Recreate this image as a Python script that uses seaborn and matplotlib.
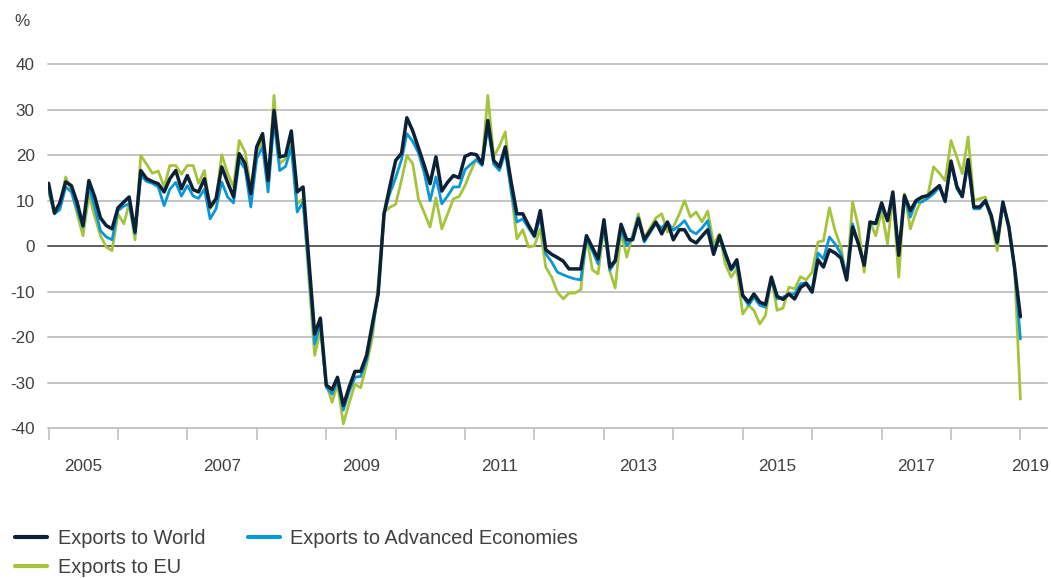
import numpy as np
import pandas as pd
import matplotlib
matplotlib.use("Agg")
import matplotlib.pyplot as plt
import matplotlib.dates as mdates
from matplotlib.lines import Line2D
import seaborn as sns

# ── data: monthly growth, % y/y, Jan 2005 .. Jan 2019 ─────────────────────────
world = [
    13.8, 7.3, 9.5, 14.1, 13.3, 9.5, 4.5, 14.4, 10.8, 6.2, 4.5, 3.8,          # 2005
    8.4, 9.7, 10.8, 3.1, 16.6, 14.8, 14.2, 13.7, 11.9, 14.8, 16.6, 12.6,      # 2006
    15.5, 12.4, 11.9, 14.8, 8.6, 10.4, 17.4, 14.0, 10.8, 20.3, 18.1, 11.5,    # 2007
    21.8, 24.7, 14.4, 29.8, 19.6, 19.9, 25.3, 11.9, 13.0, -3.0, -19.3, -15.8, # 2008
    -30.5, -31.5, -28.8, -35.0, -31.0, -27.5, -27.5, -24.0, -17.0, -10.5, 7.1, 13.0,  # 2009
    18.8, 20.4, 28.2, 25.3, 21.6, 17.7, 13.7, 19.6, 12.1, 14.0, 15.5, 15.0,   # 2010
    19.7, 20.3, 20.1, 18.1, 27.6, 18.8, 17.4, 21.8, 14.0, 7.1, 7.1, 4.6,      # 2011
    2.3, 7.8, -0.8, -1.8, -2.5, -3.3, -5.0, -5.0, -5.0, 2.3, -0.3, -2.8,      # 2012
    5.8, -4.6, -3.2, 4.8, 1.4, 1.4, 6.0, 1.4, 3.4, 5.3, 2.7, 5.3,            # 2013
    1.4, 3.6, 3.6, 1.4, 0.7, 2.2, 3.6, -1.8, 2.3, -1.5, -5.0, -3.0,          # 2014
    -10.8, -12.3, -10.5, -12.3, -12.8, -6.8, -11.0, -11.7, -10.5, -11.6, -9.1, -8.2,  # 2015
    -10.1, -3.0, -4.6, -0.8, -1.5, -2.6, -7.4, 4.2, 0.5, -4.2, 5.3, 5.0,     # 2016
    9.5, 5.6, 11.9, -2.0, 11.1, 7.8, 10.0, 10.8, 11.1, 12.2, 13.3, 9.9,      # 2017
    18.7, 13.1, 10.9, 19.0, 8.6, 8.6, 10.0, 6.7, 0.9, 9.7, 4.2, -4.6,        # 2018
    -15.5,                                                                   # 2019
]

advanced = [
    12.5, 7.1, 8.0, 13.0, 11.9, 8.0, 4.2, 13.0, 8.5, 3.4, 2.0, 1.4,
    7.8, 8.8, 9.3, 2.7, 15.5, 14.2, 13.8, 13.0, 8.9, 12.5, 14.0, 11.0,
    13.3, 11.0, 10.5, 12.5, 6.0, 8.2, 14.1, 10.8, 9.5, 18.8, 17.0, 8.6,
    19.2, 21.8, 11.9, 27.6, 16.6, 17.5, 21.8, 7.5, 9.7, -5.0, -21.5, -16.7,
    -31.0, -32.5, -29.5, -36.0, -32.0, -28.8, -28.6, -25.0, -18.0, -10.5, 7.1, 11.5,
    15.0, 19.0, 24.7, 23.0, 20.5, 16.0, 10.0, 15.2, 9.3, 11.0, 13.0, 13.0,
    16.8, 18.0, 19.0, 17.7, 26.2, 18.0, 16.6, 20.7, 12.0, 5.3, 6.0, 4.0,
    2.0, 6.4, -1.7, -3.5, -5.7, -6.3, -6.8, -7.2, -7.4, 1.6, -1.0, -3.9,
    4.9, -5.3, -3.5, 3.6, 0.1, 2.0, 6.4, 0.9, 3.0, 5.0, 4.0, 5.3,
    3.5, 4.5, 5.6, 3.4, 2.7, 4.0, 5.6, -1.3, 1.8, -2.0, -5.3, -3.9,
    -11.0, -13.0, -11.2, -13.0, -13.4, -7.2, -11.6, -11.2, -10.5, -10.5, -8.3, -8.0,
    -9.7, -1.5, -2.8, 2.0, 0.5, -1.7, -6.8, 4.9, 0.5, -3.9, 4.9, 4.9,
    8.6, 5.6, 10.8, -1.7, 10.8, 6.4, 9.7, 9.7, 10.5, 11.5, 13.0, 9.7,
    18.1, 12.6, 10.8, 18.1, 8.2, 8.2, 9.7, 6.4, 0.5, 9.3, 4.2, -4.6,
    -20.4,
]

eu = [
    11.9, 7.1, 8.6, 15.2, 12.2, 7.0, 2.3, 11.1, 6.5, 2.3, -0.2, -1.0,
    7.1, 4.9, 9.3, 1.4, 19.9, 18.0, 16.0, 16.5, 13.0, 17.7, 17.7, 15.8,
    17.7, 17.7, 13.8, 16.6, 8.2, 10.0, 20.1, 16.0, 13.0, 23.2, 20.7, 12.6,
    20.7, 23.2, 13.7, 33.1, 18.1, 19.2, 24.0, 9.3, 10.4, -7.0, -24.0, -18.5,
    -30.3, -34.3, -30.3, -39.0, -34.5, -30.3, -31.1, -26.0, -20.0, -8.5, 7.5, 8.5,
    9.2, 14.5, 19.9, 18.1, 10.4, 7.3, 4.2, 10.6, 3.8, 7.0, 10.4, 10.9,
    13.3, 16.5, 19.0, 18.1, 33.1, 19.6, 22.0, 25.1, 12.0, 1.6, 3.6, -0.2,
    0.1, 3.8, -4.6, -6.8, -10.1, -11.6, -10.3, -10.3, -9.6, 2.3, -5.2, -6.1,
    4.2, -5.5, -9.2, 3.1, -2.4, 2.5, 7.1, 1.8, 4.0, 6.2, 7.1, 3.1,
    4.2, 7.0, 10.0, 6.4, 7.5, 5.3, 7.7, 0.5, 2.7, -3.9, -6.8, -5.0,
    -14.9, -13.0, -14.1, -17.1, -15.2, -6.8, -14.1, -13.6, -9.0, -9.4, -6.7, -7.4,
    -5.7, 0.9, 1.2, 8.4, 3.4, -0.2, -7.5, 9.7, 4.2, -5.7, 5.3, 2.3,
    7.8, 0.5, 11.1, -6.8, 11.5, 3.8, 7.5, 10.4, 11.1, 17.4, 16.0, 14.4,
    23.2, 19.5, 15.9, 24.0, 10.0, 10.4, 10.8, 5.6, -1.0, 9.3, 4.9, -4.6,
    -33.6,
]

y_ticks = [-40, -30, -20, -10, 0, 10, 20, 30, 40]
year_labels = ["2005", "2007", "2009", "2011", "2013", "2015", "2017", "2019"]

COLORS = {
    "Exports to World": "#0d2136",
    "Exports to Advanced Economies": "#0b97d5",
    "Exports to EU": "#a6c33c",
}
WIDTHS = {
    "Exports to World": 2.5,
    "Exports to Advanced Economies": 2.0,
    "Exports to EU": 2.0,
}

# ── frame ────────────────────────────────────────────────────────────────────
months = pd.date_range("2005-01-01", periods=len(world), freq="MS")
df = pd.DataFrame({
    "date": months,
    "Exports to World": world,
    "Exports to Advanced Economies": advanced,
    "Exports to EU": eu,
})
long = df.melt(id_vars="date", var_name="series", value_name="pct")

sns.set_theme(style="white")
plt.rcParams["font.family"] = ["Liberation Sans", "DejaVu Sans"]
TXT = "#404040"

W, H = 1051, 578
fig = plt.figure(figsize=(W / 100, H / 100), dpi=100)
ax = fig.add_axes([48 / W, 1 - 428.3 / H, (1047 - 48) / W, (428.3 - 64) / H])

# grid first so lines sit on top
for v in y_ticks:
    ax.axhline(v, color="#5e5e5e" if v == 0 else "#c4c4c4", lw=1.4,
               clip_on=False, zorder=1)

for name in ["Exports to EU", "Exports to Advanced Economies", "Exports to World"]:
    sns.lineplot(data=long[long.series == name], x="date", y="pct",
                 color=COLORS[name], lw=WIDTHS[name], ax=ax, legend=False,
                 zorder=3)

ax.set_ylim(-40, 40)
ax.set_xlim(pd.Timestamp("2004-12-29"), pd.Timestamp("2019-05-21"))
ax.set_xlabel("")
ax.set_ylabel("")
for s in ax.spines.values():
    s.set_visible(False)

ax.set_yticks(y_ticks)
ax.set_yticklabels([str(v) for v in y_ticks])
ax.tick_params(axis="y", left=True, length=0, pad=9.5, labelsize=12.3,
               labelcolor=TXT)

# year boundary ticks, labels at mid-year of odd years
ax.xaxis.set_major_locator(mdates.YearLocator(1))
ax.xaxis.set_major_formatter(plt.NullFormatter())
ax.tick_params(axis="x", which="major", bottom=True, length=8.6, width=1.4,
               color="#c8c8c8", direction="out")
label_pos = [pd.Timestamp(f"{y}-07-02") for y in year_labels[:-1]]
label_pos.append(pd.Timestamp("2019-02-22"))
ax.set_xticks(mdates.date2num(label_pos), minor=True)
ax.set_xticklabels(year_labels, minor=True)
ax.tick_params(axis="x", which="minor", bottom=True, length=0, pad=22,
               labelsize=12.3, labelcolor=TXT)

fig.text(22 / W, 1 - 21 / H, "%", ha="center", va="center",
         fontsize=12.3, color=TXT)

# ── legend ───────────────────────────────────────────────────────────────────
order = ["Exports to World", "Exports to EU", "Exports to Advanced Economies"]
handles = [Line2D([], [], color=COLORS[n], lw=3) for n in order]
fig.legend(handles, order, loc="upper left",
           bbox_to_anchor=(15 / W, 1 - 529 / H), ncol=2, frameon=False,
           fontsize=14.4, handlelength=1.6, handletextpad=0.55,
           columnspacing=2.1, labelspacing=0.5, borderaxespad=0,
           borderpad=0, labelcolor=TXT)

fig.savefig("out.png", dpi=100)
